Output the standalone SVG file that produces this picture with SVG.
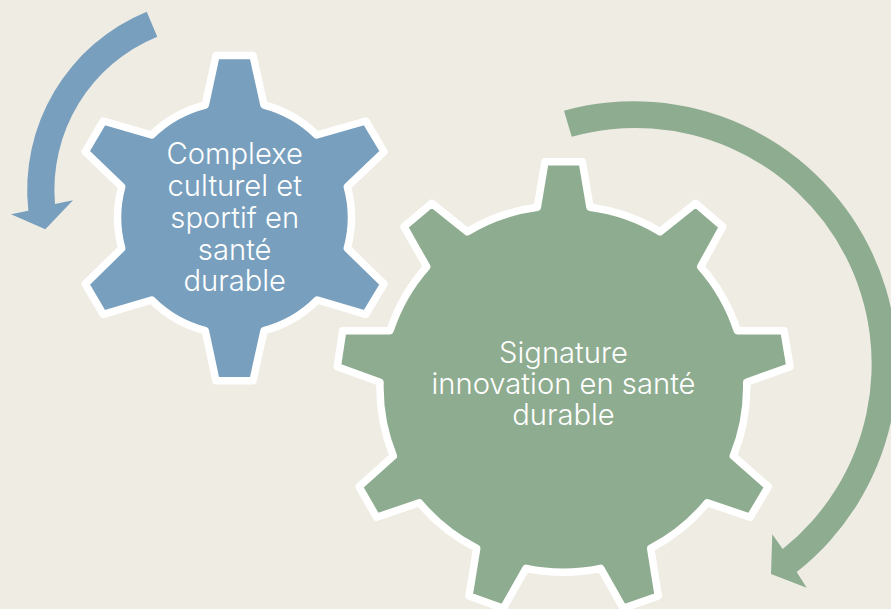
<svg xmlns="http://www.w3.org/2000/svg" width="891" height="609" viewBox="0 0 891 609">
<style>
.gear{stroke:#fff;stroke-width:7.5;stroke-linejoin:round}
.blue{fill:#789fbd}
.green{fill:#8eac90}
text{font-family:"Inter","Liberation Sans",sans-serif;font-weight:300;font-size:29.2px;fill:#fff;text-anchor:middle}
</style>
<rect width="891" height="609" fill="#efece4"/>
<g id="connectors">
<path id="arrow-blue" class="blue" d="M146.7 11.7A192.8 192.8 0 0 0 28.3 210.7L11 214.3L45.3 229.3L73 200.3L55 204A165.3 165.3 0 0 1 157.3 36.7Z"/>
<path id="arrow-green" class="green" d="M564 110.7A263.6 263.6 0 0 1 796.7 572L806.7 587.7L771 574L772.3 534.3L782.7 549A236.3 236.3 0 0 0 571.7 136.7Z"/>
</g>
<g id="node-blue">
<path class="gear blue" d="M216 55.5H253L264 105A117 117 0 0 1 316.7 135L365.7 121L384 151.7L347.3 186.7A117 117 0 0 1 347.3 248.3L384 284L365.7 314.3L317.3 300A117 117 0 0 1 264 330.7L253 380.7H216L205.3 330.7A117 117 0 0 1 151.7 300L103.3 314.3L85.3 284L121.7 248.3A117 117 0 0 1 121.7 186.7L85.3 151.7L103.3 121L151.7 135A117 117 0 0 1 205.3 105Z"/>
<text x="234.7" y="163.5">Complexe</text>
<text x="234.7" y="195.7">culturel et</text>
<text x="234.7" y="227.7">sportif en</text>
<text x="234.7" y="259.5">santé</text>
<text x="234.7" y="290.7">durable</text>
</g>
<g id="node-green">
<path class="gear green" d="M545 161.7H582.3L590 207.3A183 183 0 0 1 660 231.7L695.7 203.3L722.7 226.7L700.7 266.7A183 183 0 0 1 737.3 330.7H784L790 366.7L746.7 382.3A183 183 0 0 1 733.3 456L768.3 486.7L750 517.3L707.3 502.7A183 183 0 0 1 650.7 548.3L658.3 596L623.3 608.3L600.7 568.3A183 183 0 0 1 526 568.3L503.3 608.3L469 596L476.7 548.3A183 183 0 0 1 419.3 502.7L376.7 517.3L359 486.7L393.3 456A183 183 0 0 1 380 382.3L337.3 366.7L342.7 330.7H390A183 183 0 0 1 426.7 266.7L404 226.7L431.7 203.3L467.3 231.7A183 183 0 0 1 537.3 207.3Z"/>
<text x="563.5" y="362.7">Signature</text>
<text x="563.5" y="394">innovation en santé</text>
<text x="563.5" y="425.3">durable</text>
</g>
</svg>
